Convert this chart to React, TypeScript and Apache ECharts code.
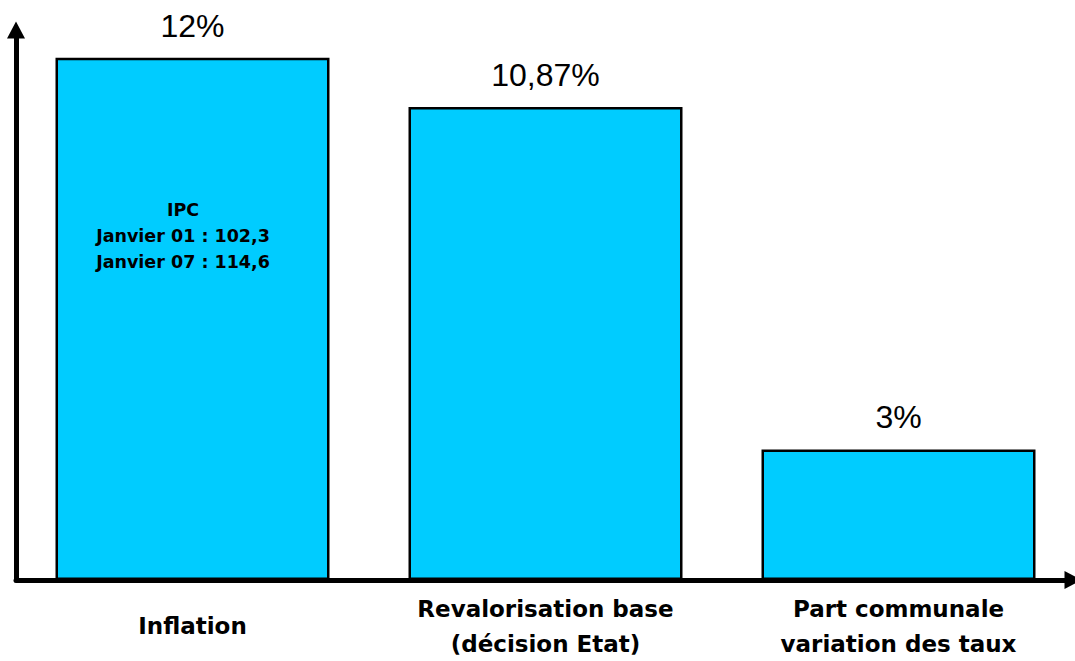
import React, { useEffect, useRef } from "react";
import * as echarts from "echarts";

// Categories and values (percent)
const categories = [
  "Inflation",
  "Revalorisation base\n(décision Etat)",
  "Part communale\nvariation des taux",
];
const values = [12, 10.87, 3];
const valueLabels = ["12%", "10,87%", "3%"];
const ipcNote = ["IPC", "Janvier 01 : 102,3", "Janvier 07 : 114,6"];

export default function App() {
  const ref = useRef<HTMLDivElement>(null);

  useEffect(() => {
    if (!ref.current) return;
    const chart = echarts.init(ref.current, undefined, { renderer: "svg" });
    chart.setOption({
      animation: false,
      backgroundColor: "#ffffff",
      grid: { left: 16, right: 0, top: 30, bottom: 78, containLabel: false },
      xAxis: {
        type: "category",
        data: categories,
        axisLine: {
          show: true,
          symbol: ["none", "triangle"],
          symbolSize: [18, 17],
          symbolOffset: [0, -2],
          lineStyle: { color: "#000", width: 5 },
        },
        axisTick: { show: false },
        axisLabel: {
          interval: 0,
          margin: 46,
          verticalAlign: "middle",
          fontFamily: "DejaVu Sans",
          fontWeight: "bold",
          fontSize: 23,
          lineHeight: 35,
          color: "#000",
        },
      },
      yAxis: {
        type: "value",
        min: 0,
        max: 12.64,
        axisLine: {
          show: true,
          symbol: ["none", "triangle"],
          symbolSize: [18, 17],
          lineStyle: { color: "#000", width: 5 },
        },
        axisTick: { show: false },
        axisLabel: { show: false },
        splitLine: { show: false },
      },
      series: [
        {
          type: "bar",
          data: values,
          barWidth: 274,
          itemStyle: { color: "#00CCFF", borderColor: "#000", borderWidth: 2.5 },
          label: {
            show: true,
            position: "top",
            distance: 16,
            formatter: (p: any) => valueLabels[p.dataIndex],
            fontFamily: "Liberation Sans",
            fontSize: 32,
            color: "#000",
          },
        },
      ],
      graphic: [
        {
          type: "text",
          x: 183,
          y: 197,
          z: 100,
          style: {
            text: ipcNote.join("\n"),
            align: "center",
            verticalAlign: "top",
            fontFamily: "DejaVu Sans",
            fontWeight: "bold",
            fontSize: 17.5,
            lineHeight: 26,
            fill: "#000",
          },
        },
      ],
    });
    return () => chart.dispose();
  }, []);

  return (
    <div
      ref={ref}
      style={{ position: "fixed", left: 0, top: 0, width: 1075, height: 661 }}
    />
  );
}
